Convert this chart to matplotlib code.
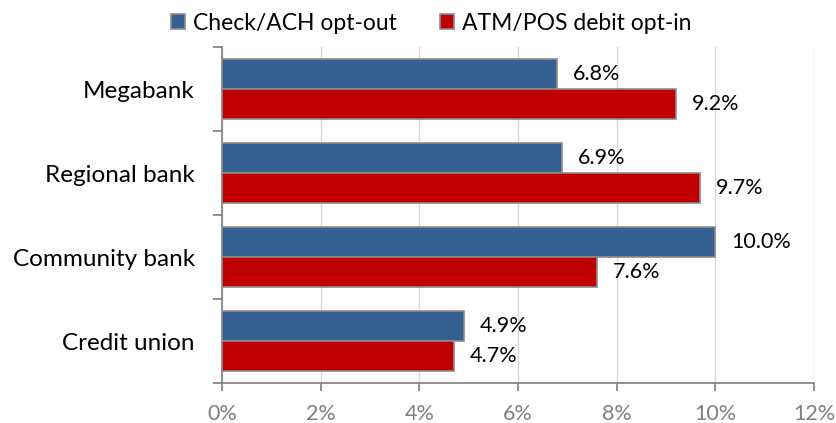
import matplotlib
matplotlib.use("Agg")
import matplotlib.pyplot as plt
import numpy as np
from matplotlib.ticker import FuncFormatter, FixedLocator

plt.rcParams['font.family'] = ['Lato', 'DejaVu Sans']

categories = ["Megabank", "Regional bank", "Community bank", "Credit union"]
check_ach = [6.8, 6.9, 10.0, 4.9]
atm_pos = [9.2, 9.7, 7.6, 4.7]
series_names = ["Check/ACH opt-out", "ATM/POS debit opt-in"]

blue = "#376092"
red = "#C00000"
edge = "#8c8c8c"

fig = plt.figure(figsize=(8.36, 4.23), dpi=100)
ax = fig.add_axes([0.2656, 0.0946, 0.708, 0.794])

y = np.arange(len(categories))[::-1]
h = 0.355
b1 = ax.barh(y + h / 2, check_ach, height=h, color=blue, edgecolor=edge, linewidth=1.2,
             label=series_names[0], zorder=3)
b2 = ax.barh(y - h / 2, atm_pos, height=h, color=red, edgecolor=edge, linewidth=1.2,
             label=series_names[1], zorder=3)

for bars, vals in ((b1, check_ach), (b2, atm_pos)):
    for bar, v in zip(bars, vals):
        ax.text(v + 0.32, bar.get_y() + bar.get_height() / 2, f"{v:.1f}%",
                va="center", ha="left", fontsize=15.5, color="black")

ax.set_xlim(0, 12)
ax.set_ylim(-0.5, len(categories) - 0.5)
ax.set_xticks(np.arange(0, 13, 2))
ax.xaxis.set_major_formatter(FuncFormatter(lambda v, p: f"{v:.0f}%"))
ax.set_yticks(y)
ax.set_yticklabels(categories)
ax.yaxis.set_minor_locator(FixedLocator(np.arange(-0.5, len(categories), 1)))

ax.grid(axis="x", color="#d9d9d9", linewidth=1, zorder=0)
for s in ("top", "right"):
    ax.spines[s].set_visible(False)
ax.spines["left"].set_color("#7f7f7f")
ax.spines["bottom"].set_color("#7f7f7f")
ax.spines["left"].set_linewidth(1.2)
ax.spines["bottom"].set_linewidth(1.2)

ax.tick_params(axis="y", which="major", length=0, pad=19.5, labelsize=17.5, labelcolor="black")
ax.tick_params(axis="y", which="minor", length=6.5, color="#7f7f7f", width=1.2)
ax.tick_params(axis="x", which="major", length=6, color="#7f7f7f", width=1.2,
               labelsize=15.5, labelcolor="#7f7f7f", pad=9)

leg = fig.legend(handles=[b1, b2], loc="center", bbox_to_anchor=(0.516, 0.945),
                 ncol=2, frameon=False, fontsize=16.5, handlelength=0.6, handleheight=0.6,
                 handletextpad=0.35, columnspacing=1.9, borderpad=0)

fig.savefig("out.png", dpi=100)
